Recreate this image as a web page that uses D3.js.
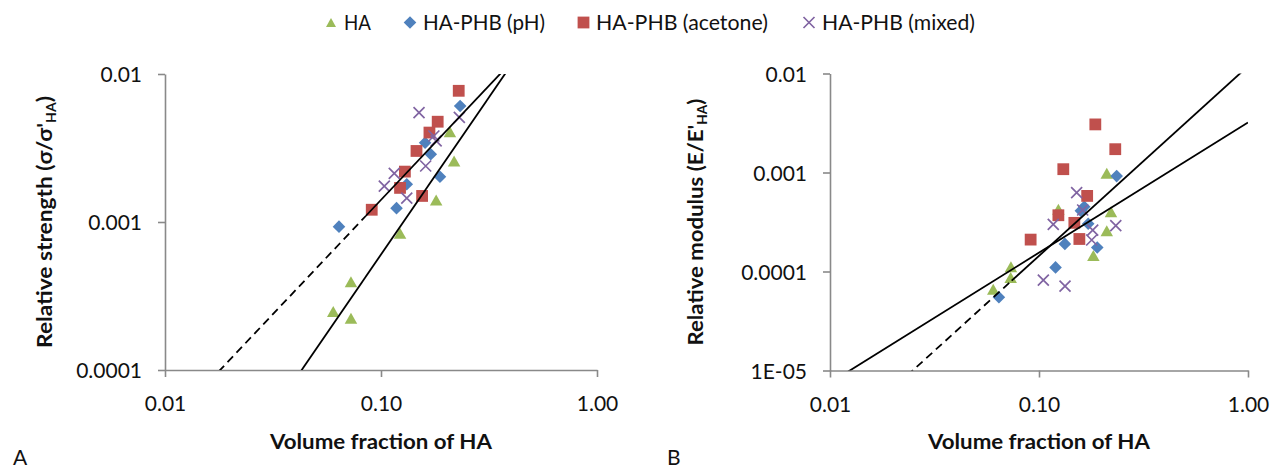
<!DOCTYPE html>
<html><head><meta charset="utf-8">
<script src="https://cdn.jsdelivr.net/npm/d3@7"></script>
<style>
body{margin:0;background:#fff}
svg{display:block}
text{font-family:Lato,"Open Sans",sans-serif;fill:#111}
</style>
</head><body>
<svg id="chart" width="1273" height="470"></svg>
<script>
// ---------------- data ----------------
const seriesNames = ["HA", "HA-PHB (pH)", "HA-PHB (acetone)", "HA-PHB (mixed)"];

// Panel A: relative strength vs volume fraction of HA  [x, y]
const strengthHA      = [[0.0601,0.000248],[0.0726,0.000395],[0.0726,0.000224],[0.1225,0.00084],[0.180,0.00141],[0.218,0.00258],[0.2085,0.00407]];
const strengthPH      = [[0.0639,0.00093],[0.118,0.00124],[0.1316,0.0018],[0.1875,0.00202],[0.160,0.00343],[0.170,0.00287],[0.2325,0.00608]];
const strengthAcetone = [[0.0906,0.00121],[0.1225,0.0017],[0.129,0.00219],[0.155,0.0015],[0.146,0.00302],[0.1676,0.00402],[0.183,0.00476],[0.229,0.0077]];
const strengthMixed   = [[0.1036,0.00175],[0.1152,0.00213],[0.1316,0.00145],[0.150,0.00548],[0.161,0.00239],[0.1757,0.00381],[0.180,0.00353],[0.2305,0.00509]];

// Panel B: relative modulus vs volume fraction of HA  [x, y]
const modulusHA      = [[0.0604,6.6e-5],[0.0734,0.000112],[0.0732,8.7e-5],[0.1238,0.000425],[0.182,0.000145],[0.211,0.00098],[0.211,0.000258],[0.221,0.000402]];
const modulusPH      = [[0.0643,5.5e-5],[0.120,0.000110],[0.133,0.00019],[0.1586,0.00041],[0.1646,0.000451],[0.172,0.000304],[0.190,0.000175],[0.2353,0.00092]];
const modulusAcetone = [[0.0912,0.00021],[0.1238,0.00037],[0.1307,0.00108],[0.1476,0.00031],[0.156,0.000213],[0.170,0.00058],[0.186,0.00306],[0.2317,0.00172]];
const modulusMixed   = [[0.1049,8.2e-5],[0.1332,7.1e-5],[0.117,0.000299],[0.1514,0.000625],[0.1618,0.000418],[0.1807,0.000262],[0.1787,0.000208],[0.233,0.00029]];

// Power-law trend lines  y = coef * x^exp  (dashed below the given x, null = fully solid)
const strengthFitCoef   = [0.04925, 0.0804];
const strengthFitExp    = [1.543, 2.125];
const strengthFitDashTo = [0.085, null];
const modulusFitCoef    = [0.01184, 0.003206];
const modulusFitExp     = [1.9157, 1.3155];
const modulusFitDashTo  = [0.074, null];

// Ticks
const xTicks = [0.01, 0.1, 1];
const xTickLabels = ["0.01", "0.10", "1.00"];
const strengthTicks = [0.0001, 0.001, 0.01];
const strengthTickLabels = ["0.0001", "0.001", "0.01"];
const modulusTicks = [0.00001, 0.0001, 0.001, 0.01];
const modulusTickLabels = ["1E-05", "0.0001", "0.001", "0.01"];

// ---------------- styles ----------------
const seriesColors = ["#9BBB59", "#4F81BD", "#C0504D", "#8064A2"];
const seriesShapes = ["triangle", "diamond", "square", "cross"];
const axisColor = "#898989";

const svg = d3.select("#chart");

function markerPath(shape, k) {
  if (shape === "triangle") { const w = 12.5*k, h = 11*k; return `M0,${-h/2}L${w/2},${h/2}L${-w/2},${h/2}Z`; }
  if (shape === "diamond")  { const r = 6.3*k; return `M0,${-r}L${r},0L0,${r}L${-r},0Z`; }
  if (shape === "square")   { const s = 5.9*k; return `M${-s},${-s}H${s}V${s}H${-s}Z`; }
  const r = 5.5*k; return `M${-r},${-r}L${r},${r}M${r},${-r}L${-r},${r}`;
}
function drawMarker(sel, i, k) {
  const p = sel.append("path").attr("d", markerPath(seriesShapes[i], k));
  if (seriesShapes[i] === "cross") p.attr("fill", "none").attr("stroke", seriesColors[i]).attr("stroke-width", 1.7);
  else p.attr("fill", seriesColors[i]);
  return p;
}
function fitWidth(textSel, target) {
  const w = textSel.node().getComputedTextLength();
  if (w > 0) textSel.attr("transform", `scale(${target / w},1)`);
}

function panel(opt) {
  const x = d3.scaleLog().domain([0.01, 1]).range(opt.xr);
  const y = d3.scaleLog().domain(opt.yDomain).range(opt.yr);
  const g = svg.append("g");

  // axes
  const yAxis = d3.axisLeft(y).tickValues(opt.yTicks).tickFormat((d, i) => opt.yTickLabels[i]).tickSize(7).tickSizeOuter(0).tickPadding(16);
  const ya = g.append("g").attr("transform", `translate(${opt.xr[0]},0)`).call(yAxis);
  const xAxis = d3.axisBottom(x).tickValues(xTicks).tickFormat((d, i) => xTickLabels[i]).tickSize(7).tickSizeOuter(0);
  const xa = g.append("g").attr("transform", `translate(0,${opt.yr[0]})`).call(xAxis);
  [ya, xa].forEach(a => {
    a.select(".domain").attr("stroke", axisColor).attr("stroke-width", 1.6);
    a.selectAll(".tick line").attr("stroke", axisColor).attr("stroke-width", 1.6);
    a.selectAll(".tick text").style("font-size", "21px").attr("fill", "#111").style("fill", "#111");
  });
  ya.selectAll(".tick text").attr("dy", "0.36em");
  xa.selectAll(".tick text").attr("y", 41).attr("dy", null);

  // clip
  const cid = "clip" + opt.id;
  svg.append("defs").append("clipPath").attr("id", cid).append("rect")
    .attr("x", opt.xr[0]).attr("y", opt.yr[1]).attr("width", opt.xr[1] - opt.xr[0]).attr("height", opt.yr[0] - opt.yr[1]);

  // markers
  opt.series.forEach((data, i) => {
    const sg = g.append("g");
    data.forEach(d => {
      drawMarker(sg, i, 1).attr("transform", `translate(${x(d[0])},${y(d[1])})`);
    });
  });

  // trend lines
  const line = d3.line().x(d => x(d[0])).y(d => y(d[1]));
  const lg = g.append("g").attr("clip-path", `url(#${cid})`);
  opt.fitCoef.forEach((c, i) => {
    const f = v => [v, c * Math.pow(v, opt.fitExp[i])];
    const split = opt.fitDash[i];
    if (split) {
      lg.append("path").attr("d", line([f(0.01), f(split)])).attr("fill", "none")
        .attr("stroke", "#000").attr("stroke-width", 1.8).attr("stroke-dasharray", "8,5");
      lg.append("path").attr("d", line([f(split), f(1)])).attr("fill", "none")
        .attr("stroke", "#000").attr("stroke-width", 1.8);
    } else {
      lg.append("path").attr("d", line([f(0.01), f(1)])).attr("fill", "none")
        .attr("stroke", "#000").attr("stroke-width", 1.8);
    }
  });

  // x title
  const cx = (opt.xr[0] + opt.xr[1]) / 2;
  const xt = g.append("g").attr("transform", `translate(${cx},449)`)
    .append("text").attr("text-anchor", "middle").style("font-size", "21px").style("font-weight", "bold")
    .text("Volume fraction of HA");
  fitWidth(xt, 222);

  // y title
  const cy = (opt.yr[0] + opt.yr[1]) / 2;
  const yt = g.append("g").attr("transform", `translate(${opt.yTitleX},${cy}) rotate(-90)`)
    .append("text").attr("text-anchor", "middle").style("font-size", "21px").style("font-weight", "bold");
  yt.append("tspan").text(opt.yTitle);
  yt.append("tspan").attr("dy", 4).style("font-size", "13px").text("HA");
  yt.append("tspan").attr("dy", -4).text(")");
  fitWidth(yt, opt.yTitleW);

  // panel letter
  svg.append("text").attr("x", opt.letterX).attr("y", 465).style("font-size", "21px").text(opt.letter);
}

panel({
  id: "A", xr: [165, 597], yr: [370, 74], yDomain: [0.0001, 0.01],
  yTicks: strengthTicks, yTickLabels: strengthTickLabels,
  series: [strengthHA, strengthPH, strengthAcetone, strengthMixed],
  fitCoef: strengthFitCoef, fitExp: strengthFitExp, fitDash: strengthFitDashTo,
  yTitle: "Relative strength (\u03C3/\u03C3'", yTitleX: 52, yTitleW: 252,
  letter: "A", letterX: 13
});
panel({
  id: "B", xr: [830, 1248], yr: [370.5, 73.5], yDomain: [0.00001, 0.01],
  yTicks: modulusTicks, yTickLabels: modulusTickLabels,
  series: [modulusHA, modulusPH, modulusAcetone, modulusMixed],
  fitCoef: modulusFitCoef, fitExp: modulusFitExp, fitDash: modulusFitDashTo,
  yTitle: "Relative modulus (E/E'", yTitleX: 703, yTitleW: 247,
  letter: "B", letterX: 667
});

// legend
const legendMarkX = [331, 410, 583.5, 809];
const legendTextX = [344, 423, 596, 822];
const legendTextW = [27, 122, 172, 153];
const legendScale = [0.8, 1, 1, 1];
seriesNames.forEach((name, i) => {
  const lg = svg.append("g");
  drawMarker(lg, i, legendScale[i]).attr("transform", `translate(${legendMarkX[i]},22.5)`);
  const t = lg.append("g").attr("transform", `translate(${legendTextX[i]},30)`)
    .append("text").style("font-size", "21px").text(name);
  fitWidth(t, legendTextW[i]);
});
</script>
</body></html>
